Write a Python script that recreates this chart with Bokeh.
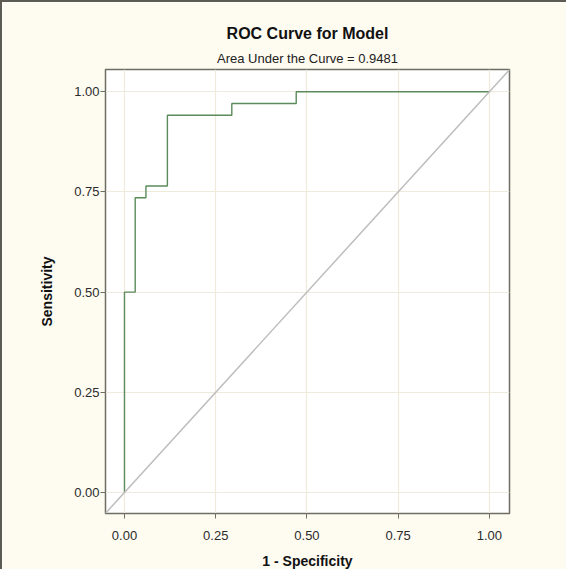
from bokeh.plotting import figure
from bokeh.models import Range1d, Title, Slope, FixedTicker, PrintfTickFormatter
from bokeh.embed import file_html
from bokeh.resources import INLINE

# ROC step curve (1 - specificity, sensitivity)
fpr = [0.0, 0.0, 0.0294, 0.0294, 0.0588, 0.0588, 0.1176, 0.1176, 0.2941, 0.2941, 0.4706, 0.4706, 1.0]
tpr = [0.0, 0.5, 0.5, 0.7353, 0.7353, 0.7647, 0.7647, 0.9412, 0.9412, 0.9706, 0.9706, 1.0, 1.0]
ticks = [0.0, 0.25, 0.5, 0.75, 1.0]
title_text = "ROC Curve for Model"
subtitle_text = "Area Under the Curve = 0.9481"

FONT = "Liberation Sans"
BG = "#FEFBF1"

p = figure(width=566, height=569, output_backend="svg", toolbar_location=None,
           x_range=Range1d(-0.052, 1.055), y_range=Range1d(-0.0525, 1.0555),
           min_border_left=103, min_border_right=59, min_border_top=67, min_border_bottom=57)
p.styles = {"border-top": "2px solid #5c5c52", "border-left": "2px solid #5c5c52"}
p.background_fill_color = "white"
p.border_fill_color = BG
p.outline_line_color = "#6e6e62"
p.outline_line_width = 1.5

p.add_layout(Title(text=subtitle_text, align="center", text_font=FONT, text_font_size="13px",
                   text_font_style="normal", text_color="#222222", offset=0, standoff=7), "above")
p.add_layout(Title(text=title_text, align="center", text_font=FONT, text_font_size="16px",
                   text_font_style="bold", text_color="#111111", offset=0, standoff=8), "above")

p.add_layout(Slope(gradient=1, y_intercept=0, line_color="#BDBDBD", line_width=1.5))
p.line(fpr, tpr, line_color="#5B8A5B", line_width=1.4)

for ax in (p.xaxis, p.yaxis):
    ax.ticker = FixedTicker(ticks=ticks)
    ax.formatter = PrintfTickFormatter(format="%.2f")
    ax.major_label_text_font = FONT
    ax.major_label_text_font_size = "13px"
    ax.major_label_text_color = "#2b2b2b"
    ax.axis_label_text_font = FONT
    ax.axis_label_text_font_size = "14px"
    ax.axis_label_text_font_style = "bold"
    ax.axis_label_text_color = "#111111"
    ax.axis_line_color = "#6e6e62"
    ax.major_tick_line_color = "#6e6e62"
    ax.major_tick_out = 5
    ax.major_tick_in = 0
    ax.minor_tick_line_color = None

p.xaxis.axis_label = "1 - Specificity"
p.yaxis.axis_label = "Sensitivity"
p.xaxis.major_label_standoff = 12
p.yaxis.major_label_standoff = 1
p.xaxis.axis_label_standoff = 10
p.yaxis.axis_label_standoff = 16

p.grid.ticker = FixedTicker(ticks=ticks)
p.grid.grid_line_color = "#EFEBDC"
p.grid.grid_line_width = 1.2

open("out.html", "w").write(file_html(p, INLINE))
